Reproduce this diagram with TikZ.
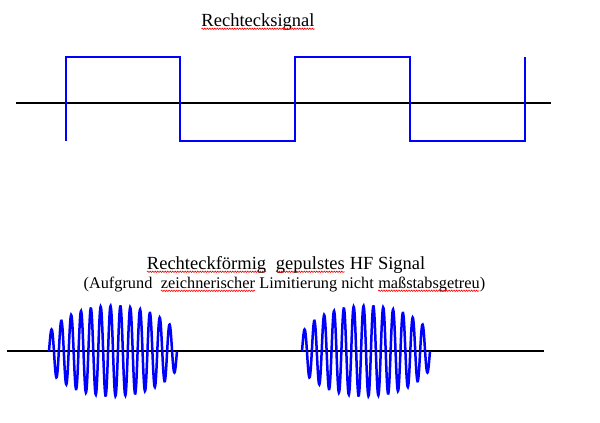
\documentclass[tikz,border=0pt]{standalone}
\usepackage{fontspec}
\setmainfont{Liberation Serif}
\usetikzlibrary{decorations.pathmorphing}
\tikzset{wavy/.style={red,line width=0.6pt,decorate,decoration={snake,amplitude=0.7pt,segment length=2.5pt}}}
\newcommand\wavyword[1]{\tikz[baseline=(w.base)]{\node[inner sep=0pt,outer sep=0pt] (w) {#1};
  \draw[wavy] ([yshift=-2.8pt]w.base west) -- ([yshift=-2.8pt]w.base east);}}

\begin{document}
\begin{tikzpicture}[x=1pt,y=-1pt]
  \tikzstyle{signal}=[blue,line width=2pt]
  \tikzstyle{burst}=[signal,line width=2.5pt]
  \tikzstyle{axis}=[black,line width=2pt]
  \tikzstyle{caption}=[inner sep=0pt,anchor=base]
  \useasboundingbox (0,0) rectangle (600,423);
  % Rechtecksignal
  \node[caption,font=\fontsize{18.5}{22}\selectfont] at (258,26) (rect) {\wavyword{Rechtecksignal}};
  \draw[axis] (16,102.5) -- (551,102.5);
  \draw[signal] (66,140.5) -- (66,57) -- (180,57) -- (180,140.5) -- (295,140.5) -- (295,57)
    -- (410,57) -- (410,140.5) -- (525,140.5) -- (525,57);
  % gepulstes HF Signal
  \node[caption,font=\fontsize{18.5}{22}\selectfont] at (286,269) (hf)
    {\wavyword{Rechteckförmig}~ \wavyword{gepulstes} HF Signal};
  \node[caption,font=\fontsize{16.3}{20}\selectfont] at (284.5,288) (note)
    {(Aufgrund~ \wavyword{zeichnerischer} Limitierung nicht \wavyword{maßstabsgetreu})};
  \draw[axis] (7,351) -- (544,351);
  \foreach \s/\e in {49/177,302/430}
    \draw[burst] plot[domain=\s:\e,samples=400,smooth]
      (\x,{351-45*sqrt(max(0,1-((\x-\s-64)/70)*((\x-\s-64)/70)))*sin((\x-\s)*36.563)});
\end{tikzpicture}
\end{document}
